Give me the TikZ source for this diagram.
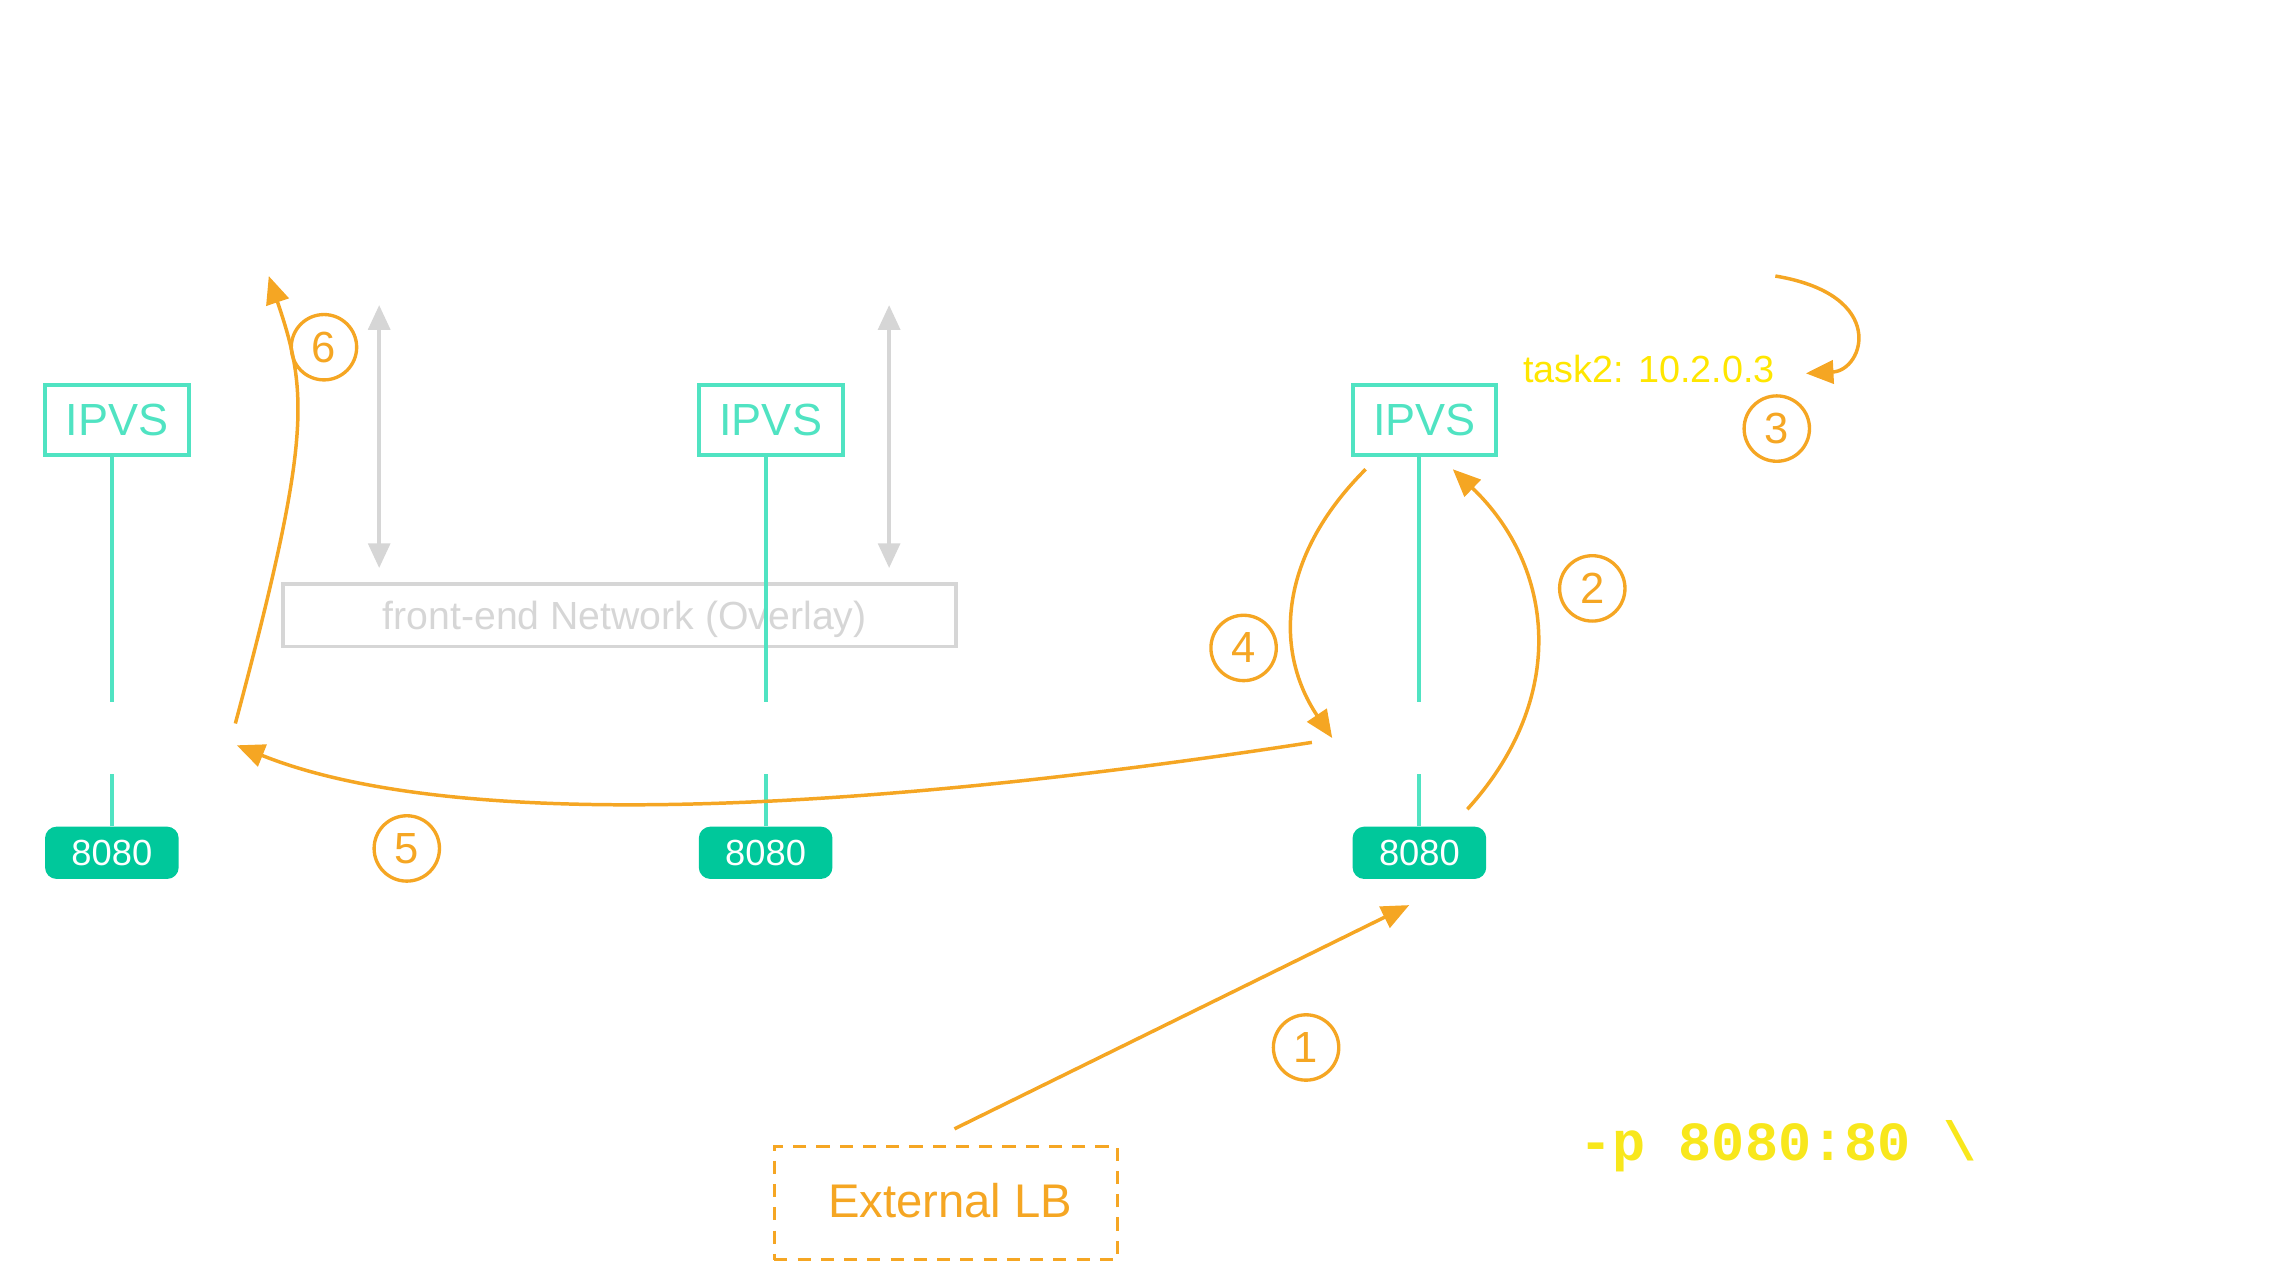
\documentclass[tikz,border=0pt]{standalone}
\usepackage{fontspec}
\setmainfont{Liberation Sans}
\setmonofont{Liberation Mono}
\usetikzlibrary{arrows.meta}
\definecolor{tealline}{RGB}{80,227,194}
\definecolor{portgreen}{RGB}{0,200,155}
\definecolor{flow}{RGB}{245,166,35}
\definecolor{ylw}{RGB}{255,230,0}
\definecolor{ylwcode}{RGB}{248,231,28}
\definecolor{netgray}{RGB}{214,214,214}
\tikzset{
  ipvs/.style={draw=tealline, line width=2.7pt, text=tealline, minimum width=99pt, minimum height=48pt, inner sep=0pt, font=\fontsize{31}{31}\selectfont},
  port/.style={fill=portgreen, rounded corners=8pt, text=white, minimum width=92pt, minimum height=36pt, inner sep=0pt, font=\fontsize{25}{25}\selectfont},
  tline/.style={draw=tealline, line width=2.8pt},
  flowarrow/.style={draw=flow, line width=2.4pt, -{Triangle[length=19pt,width=16pt]}},
  numcirc/.style={circle, draw=flow, line width=2.3pt, text=flow, minimum size=45pt, inner sep=0pt, font=\fontsize{30}{30}\selectfont},
  grayarrow/.style={draw=netgray, line width=2.6pt, {Triangle[length=17pt,width=15pt]}-{Triangle[length=17pt,width=15pt]}},
}
\begin{document}
\begin{tikzpicture}[x=1pt,y=-1pt]
\useasboundingbox (0,0) rectangle (1568,869);

% IPVS boxes
\node[ipvs] (ipvs1) at (80.5,289) {IPVS};
\node[ipvs] (ipvs2) at (530.5,289) {IPVS};
\node[ipvs] (ipvs3) at (980.5,289) {IPVS};

% port boxes
\node[port] (p1) at (77,587) {8080};
\node[port] (p2) at (527,587) {8080};
\node[port] (p3) at (977,587) {8080};

% network box
\node[draw=netgray, line width=2.6pt, minimum width=463pt, minimum height=43pt, inner sep=0pt] (net) at (426.5,423.5) {};
\node[text=netgray, inner sep=0pt, font=\fontsize{27}{27}\selectfont, anchor=base] (nettext) at (430,433) {front-end Network (Overlay)};

% teal vertical lines
\foreach \i in {1,2,3}{
  \draw[tline] (ipvs\i.south -| p\i.north) -- ++(0,169);
  \draw[tline] (p\i.north) -- ++(0,-36);
}

% gray double arrows
\coordinate (g1t) at (261,210); \coordinate (g1b) at (261,391);
\coordinate (g2t) at (612,210); \coordinate (g2b) at (612,391);
\draw[grayarrow] (g1t) -- (g1b);
\draw[grayarrow] (g2t) -- (g2b);

% External LB
\node[draw=flow, line width=2.3pt, dash pattern=on 9pt off 7pt, minimum width=236pt, minimum height=78pt, inner sep=0pt] (lb) at (651,828) {};
\node[text=flow, inner sep=0pt, font=\fontsize{32.5}{32.5}\selectfont, anchor=base] (lbtext) at (654,838) {External LB};

% texts
\node[text=ylw, inner sep=0pt, font=\fontsize{26}{26}\selectfont, anchor=base] (task) at (1135,263) {task2: 10.2.0.3};
\node[text=ylwcode, inner sep=0pt, font=\ttfamily\bfseries\fontsize{38}{38}\selectfont, anchor=base] (cmd) at (1224,799) {-p 8080:80 \textbackslash};

% arrow coordinates
\coordinate (a1s) at (657,777); \coordinate (a1e) at (970,623);
\coordinate (a2s) at (1010,557); \coordinate (a2e) at (1000,323);
\coordinate (a3s) at (1222,190); \coordinate (a3e) at (1243,257);
\coordinate (a4s) at (940,323); \coordinate (a4e) at (917,508);
\coordinate (a5s) at (903,511); \coordinate (a5e) at (163,513);
\coordinate (a6s) at (162,498); \coordinate (a6e) at (185,190);

\draw[flowarrow] (a1s) -- (a1e);
\draw[flowarrow] (a2s) .. controls (1080,480) and (1070,390) .. (a2e);
\draw[flowarrow] (a3s) .. controls (1300,203) and (1283,255) .. (a3e);
\draw[flowarrow] (a4s) .. controls (878,385) and (878,450) .. (a4e);
\draw[flowarrow] (a5s) .. controls (650,550) and (330,580) .. (a5e);
\draw[flowarrow] (a6s) .. controls (215,300) and (212,270) .. (a6e);

% numbered circles
\node[numcirc] (n1) at (899,721) {1};
\node[numcirc] (n2) at (1096,405) {2};
\node[numcirc] (n3) at (1223,295) {3};
\node[numcirc] (n4) at (856,446) {4};
\node[numcirc] (n5) at (280,584) {5};
\node[numcirc] (n6) at (223,239) {6};
\end{tikzpicture}
\end{document}
